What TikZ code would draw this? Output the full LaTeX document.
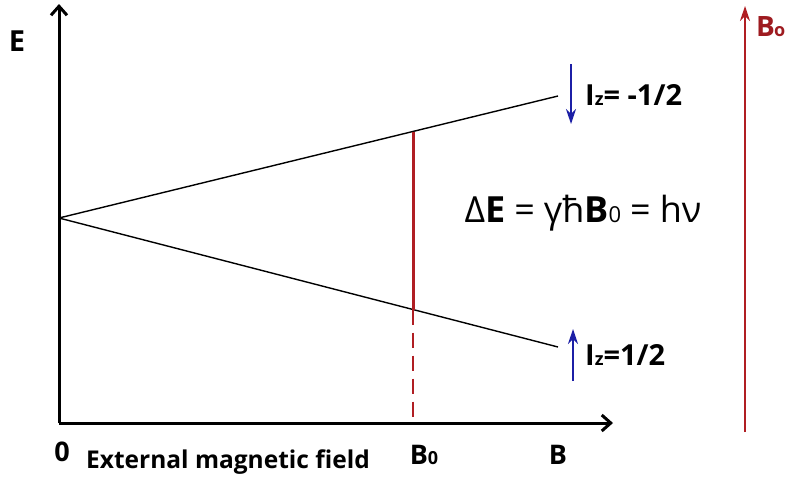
\documentclass[tikz,border=0pt]{standalone}
\usepackage{fontspec}
\setmainfont{Open Sans}
\usepackage{tikz}
\usetikzlibrary{arrows.meta}
\definecolor{redx}{HTML}{B01E23}
\definecolor{bluex}{HTML}{1C1FA6}
\newcommand{\fs}[1]{\fontsize{#1}{#1}\selectfont}
\newcommand{\sm}[1]{{\fs{18}#1}}
\tikzset{
  axis/.style={line width=3pt,-{Straight Barb[length=9pt,width=16pt,line width=3pt]}},
  level/.style={line width=1.4pt,black},
  spin/.style={line width=1.6pt,bluex,-{Stealth[length=15pt,width=10pt]}},
  lbl/.style={font=\fs{27}\bfseries,inner sep=0pt}
}
\begin{document}
\begin{tikzpicture}[x=1pt,y=-1pt]
\useasboundingbox (0,0) rectangle (789,477);
\coordinate (O) at (59,423); \coordinate (Ytop) at (59,4); \coordinate (Xend) at (613,423);
\coordinate (apex) at (59,218); \coordinate (up) at (558,96); \coordinate (lo) at (558,347);
\coordinate (B0up) at (413,131.5); \coordinate (B0lo) at (413,309.5); \coordinate (B0ax) at (413,423);
% axes
\draw[axis] (O)--(Ytop);
\draw[axis] (O)--(Xend);
% energy levels
\draw[level] (apex)--(up);
\draw[level] (apex)--(lo);
\draw[redx,line width=3pt] (B0up)--(B0lo);
\draw[redx,line width=1.5pt,dash pattern=on 15pt off 8pt] (B0lo)--(B0ax);
% spins
\coordinate (dA) at (571,64); \coordinate (dB) at (571,124);
\coordinate (uA) at (573,381); \coordinate (uB) at (573,329);
\draw[spin] (dA)--(dB);
\draw[spin] (uA)--(uB);
% field arrow
\coordinate (fA) at (745,432); \coordinate (fB) at (745,6);
\draw[redx,line width=1.6pt,-{Stealth[length=15pt,width=10pt]}] (fA)--(fB);
% labels
\node[lbl,font=\fs{29}\bfseries] (E) at (17,41) {E};
\node[lbl] (zero) at (62,452) {0};
\node[lbl,font=\fs{24.5}\bfseries] (ext) at (228,462) {External magnetic field};
\node[lbl] (B0) at (424,455) {B\sm{0}};
\node[lbl] (B) at (558,455) {B};
\node[lbl,font=\fs{29}\bfseries,anchor=west] (Iminus) at (585,95) {I\sm{z}= -1/2};
\node[lbl,font=\fs{29}\bfseries,anchor=west] (Iplus) at (585,355) {I\sm{z}=1/2};
\node[inner sep=0pt,font=\fs{36}] (dE) at (583,213) {Δ\textbf{E}\kern9pt=\kern9ptγħ\textbf{B}{\fs{22}0}\kern9pt=\kern9pthν};
\node[lbl,font=\fs{28}\bfseries,text=redx!90!black,anchor=west] (Bfield) at (756,27) {B\kern-1pt\sm{o}};
\end{tikzpicture}
\end{document}
